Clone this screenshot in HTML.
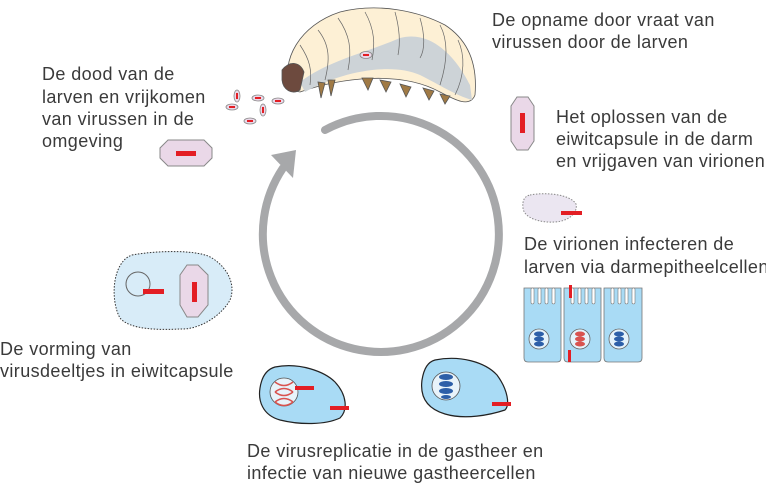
<!DOCTYPE html>
<html><head><meta charset="utf-8"><style>
html,body{margin:0;padding:0;background:#fff;}
svg{display:block}
text{font-family:"Liberation Sans",sans-serif;font-size:18px;fill:#3a3a3a;letter-spacing:0.4px}
</style></head><body>
<svg width="766" height="490" viewBox="0 0 766 490" xmlns="http://www.w3.org/2000/svg">
<!-- cycle arrow -->
<path d="M325,130 A118,118 0 1 1 283,168" fill="none" stroke="#a7a8aa" stroke-width="8" stroke-linecap="round"/>
<polygon points="296,150 271,155 293,178" fill="#a7a8aa"/>

<!-- larva -->
<g stroke="#555" stroke-width="0.8">
<path d="M290,90 C280,60 300,25 340,12 C380,2 420,12 445,25 C465,38 478,60 475,95 C470,108 455,100 440,92 C400,70 340,78 300,92 Z" fill="#fdf0d5"/>
<path d="M300,82 C330,60 360,55 400,38 C430,30 455,55 470,85 L472,100 C455,95 440,85 420,75 C390,62 340,72 305,92 Z" fill="#cdd3d7" stroke="none"/>
<path d="M282,70 C290,60 300,62 304,72 L300,90 C292,95 283,90 282,80 Z" fill="#6d4a3e"/>
<g fill="#a07a45">
<path d="M318,82 l3,16 l4,-15z"/><path d="M328,80 l3,16 l4,-16z"/><path d="M362,78 l6,12 l5,-12z"/><path d="M380,80 l6,12 l5,-10z"/><path d="M400,84 l6,13 l5,-10z"/><path d="M423,88 l6,12 l5,-9z"/><path d="M440,94 l5,10 l5,-8z"/>
</g>
<g fill="none" stroke="#666" stroke-width="0.7">
<path d="M300,45 C310,60 312,70 310,85"/><path d="M318,30 C330,45 330,60 325,80"/><path d="M338,18 C350,35 352,50 348,70"/><path d="M365,12 C375,30 375,45 372,60"/><path d="M395,12 C400,30 400,45 398,55"/><path d="M420,18 C425,35 425,50 420,58"/><path d="M440,25 C448,40 448,60 440,85"/><path d="M458,40 C465,55 465,75 455,95"/>
</g>
</g>
<ellipse cx="366" cy="55" rx="6" ry="3.5" fill="#ead8e8" stroke="#888" stroke-width="0.8"/><rect x="363" y="54" width="6" height="2" fill="#e31e24"/>

<!-- small virus particles -->
<g fill="#ead8e8" stroke="#888" stroke-width="0.8">
<ellipse cx="237" cy="96" rx="3" ry="6"/><ellipse cx="258" cy="98" rx="6" ry="3"/><ellipse cx="232" cy="107" rx="6" ry="3"/><ellipse cx="278" cy="101" rx="6" ry="3"/><ellipse cx="263" cy="110" rx="3" ry="6"/><ellipse cx="250" cy="121" rx="6" ry="3"/>
</g>
<g fill="#e31e24"><rect x="236" y="93" width="2" height="6"/><rect x="255" y="97" width="6" height="2"/><rect x="229" y="106" width="6" height="2"/><rect x="275" y="100" width="6" height="2"/><rect x="262" y="107" width="2" height="6"/><rect x="247" y="120" width="6" height="2"/></g>

<!-- octagon left -->
<polygon points="168,140 204,140 212,148 212,158 204,166 168,166 160,158 160,148" fill="#ead8e8" stroke="#888" stroke-width="1"/>
<rect x="176" y="151" width="20" height="5" fill="#e31e24"/>

<!-- octagon right -->
<polygon points="517,97 528,97 534,106 534,141 528,150 517,150 511,141 511,106" fill="#ead8e8" stroke="#888" stroke-width="1"/>
<rect x="520" y="113" width="5" height="20" fill="#e31e24"/>

<!-- virion dotted -->
<path d="M530,195 C545,192 570,194 576,204 C578,212 570,221 555,222 C540,223 524,218 523,208 C522,200 525,196 530,195Z" fill="#ebe6f1" stroke="#888" stroke-width="1" stroke-dasharray="1.5,1.5"/>
<rect x="561" y="211" width="21" height="4" fill="#e31e24"/>

<!-- epithelial cells -->
<g fill="#a9dbf5" stroke="#777" stroke-width="0.8">
<path d="M524,288 h37 v70 q0,4 -4,4 h-29 q-4,0 -4,-4 Z"/>
<path d="M564,288 h37 v70 q0,4 -4,4 h-29 q-4,0 -4,-4 Z"/>
<path d="M604,288 h38 v70 q0,4 -4,4 h-30 q-4,0 -4,-4 Z"/>
</g>
<g fill="#fff" stroke="#777" stroke-width="0.6">
<rect x="531" y="288" width="3" height="16" rx="1.5"/><rect x="538" y="288" width="3" height="16" rx="1.5"/><rect x="545" y="288" width="3" height="16" rx="1.5"/><rect x="552" y="288" width="3" height="16" rx="1.5"/>
<rect x="571" y="288" width="3" height="16" rx="1.5"/><rect x="578" y="288" width="3" height="16" rx="1.5"/><rect x="585" y="288" width="3" height="16" rx="1.5"/><rect x="592" y="288" width="3" height="16" rx="1.5"/>
<rect x="611" y="288" width="3" height="16" rx="1.5"/><rect x="618" y="288" width="3" height="16" rx="1.5"/><rect x="625" y="288" width="3" height="16" rx="1.5"/><rect x="632" y="288" width="3" height="16" rx="1.5"/>
</g>
<g fill="#e5f3fb" stroke="#666" stroke-width="0.8"><circle cx="539" cy="339" r="10"/><circle cx="580" cy="339" r="10"/><circle cx="619" cy="339" r="10"/></g>
<g fill="#2d5fa8"><ellipse cx="539" cy="334" rx="5" ry="2.5"/><ellipse cx="539" cy="339" rx="5" ry="2.5"/><ellipse cx="539" cy="344" rx="5" ry="2.5"/><ellipse cx="619" cy="334" rx="5" ry="2.5"/><ellipse cx="619" cy="339" rx="5" ry="2.5"/><ellipse cx="619" cy="344" rx="5" ry="2.5"/></g>
<g fill="#d9534f"><ellipse cx="580" cy="334" rx="5" ry="2.5"/><ellipse cx="580" cy="339" rx="5" ry="2.5"/><ellipse cx="580" cy="344" rx="5" ry="2.5"/></g>
<rect x="569" y="285" width="3" height="13" fill="#e31e24"/>
<rect x="568" y="350" width="3" height="12" fill="#e31e24"/>

<!-- left dotted cell -->
<path d="M132,255 C160,250 200,250 212,258 C228,268 236,285 230,300 C222,315 200,330 180,329 C160,330 130,330 120,318 C110,300 112,262 132,255Z" fill="#d8ecf8" stroke="#333" stroke-width="1" stroke-dasharray="1.5,1.5"/>
<circle cx="138" cy="284" r="12" fill="#d8ecf8" stroke="#666" stroke-width="1"/>
<rect x="143" y="289" width="21" height="5" fill="#e31e24"/>
<polygon points="187,265 198,265 208,275 208,305 198,317 187,317 180,305 180,275" fill="#ead8e8" stroke="#888" stroke-width="1"/>
<rect x="192" y="282" width="5" height="20" fill="#e31e24"/>

<!-- replication cells -->
<path d="M275,367 C300,362 325,372 335,382 C347,395 348,410 340,418 C325,425 300,425 280,420 C262,415 258,400 260,388 C262,375 268,369 275,367Z" fill="#a9dbf5" stroke="#222" stroke-width="1.2"/>
<circle cx="284" cy="392" r="14" fill="#e8f3fa" stroke="#555" stroke-width="0.8"/>
<g fill="none" stroke="#d9534f" stroke-width="1.5"><path d="M275,382 q9,7 18,0 M275,392 q9,-7 18,0 M275,392 q9,7 18,0 M275,402 q9,-7 18,0 M275,402 q9,7 18,0"/></g>
<rect x="295" y="386" width="19" height="4" fill="#e31e24"/>
<rect x="330" y="406" width="19" height="4" fill="#e31e24"/>

<path d="M435,360 C460,355 485,362 497,375 C508,390 510,405 505,410 C490,415 465,420 445,414 C425,408 420,395 422,380 C424,368 428,362 435,360Z" fill="#a9dbf5" stroke="#222" stroke-width="1.2"/>
<circle cx="446" cy="386" r="14" fill="#e8f3fa" stroke="#555" stroke-width="0.8"/>
<g fill="#2d5fa8"><ellipse cx="446" cy="377" rx="7" ry="3"/><ellipse cx="446" cy="384" rx="7" ry="3"/><ellipse cx="446" cy="391" rx="7" ry="3"/><ellipse cx="446" cy="397" rx="5" ry="2"/></g>
<rect x="492" y="402" width="19" height="4" fill="#e31e24"/>

<!-- texts -->
<text x="492" y="26">De opname door vraat van</text>
<text x="492" y="48">virussen door de larven</text>
<text x="42" y="80">De dood van de</text>
<text x="42" y="103">larven en vrijkomen</text>
<text x="42" y="125">van virussen in de</text>
<text x="42" y="147">omgeving</text>
<text x="556" y="123">Het oplossen van de</text>
<text x="556" y="145">eiwitcapsule in de darm</text>
<text x="556" y="167">en vrijgaven van virionen</text>
<text x="524" y="250">De virionen infecteren de</text>
<text x="524" y="273">larven via darmepitheelcellen</text>
<text x="0" y="355">De vorming van</text>
<text x="0" y="377">virusdeeltjes in eiwitcapsule</text>
<text x="247" y="457">De virusreplicatie in de gastheer en</text>
<text x="247" y="479">infectie van nieuwe gastheercellen</text>
</svg>
</body></html>
